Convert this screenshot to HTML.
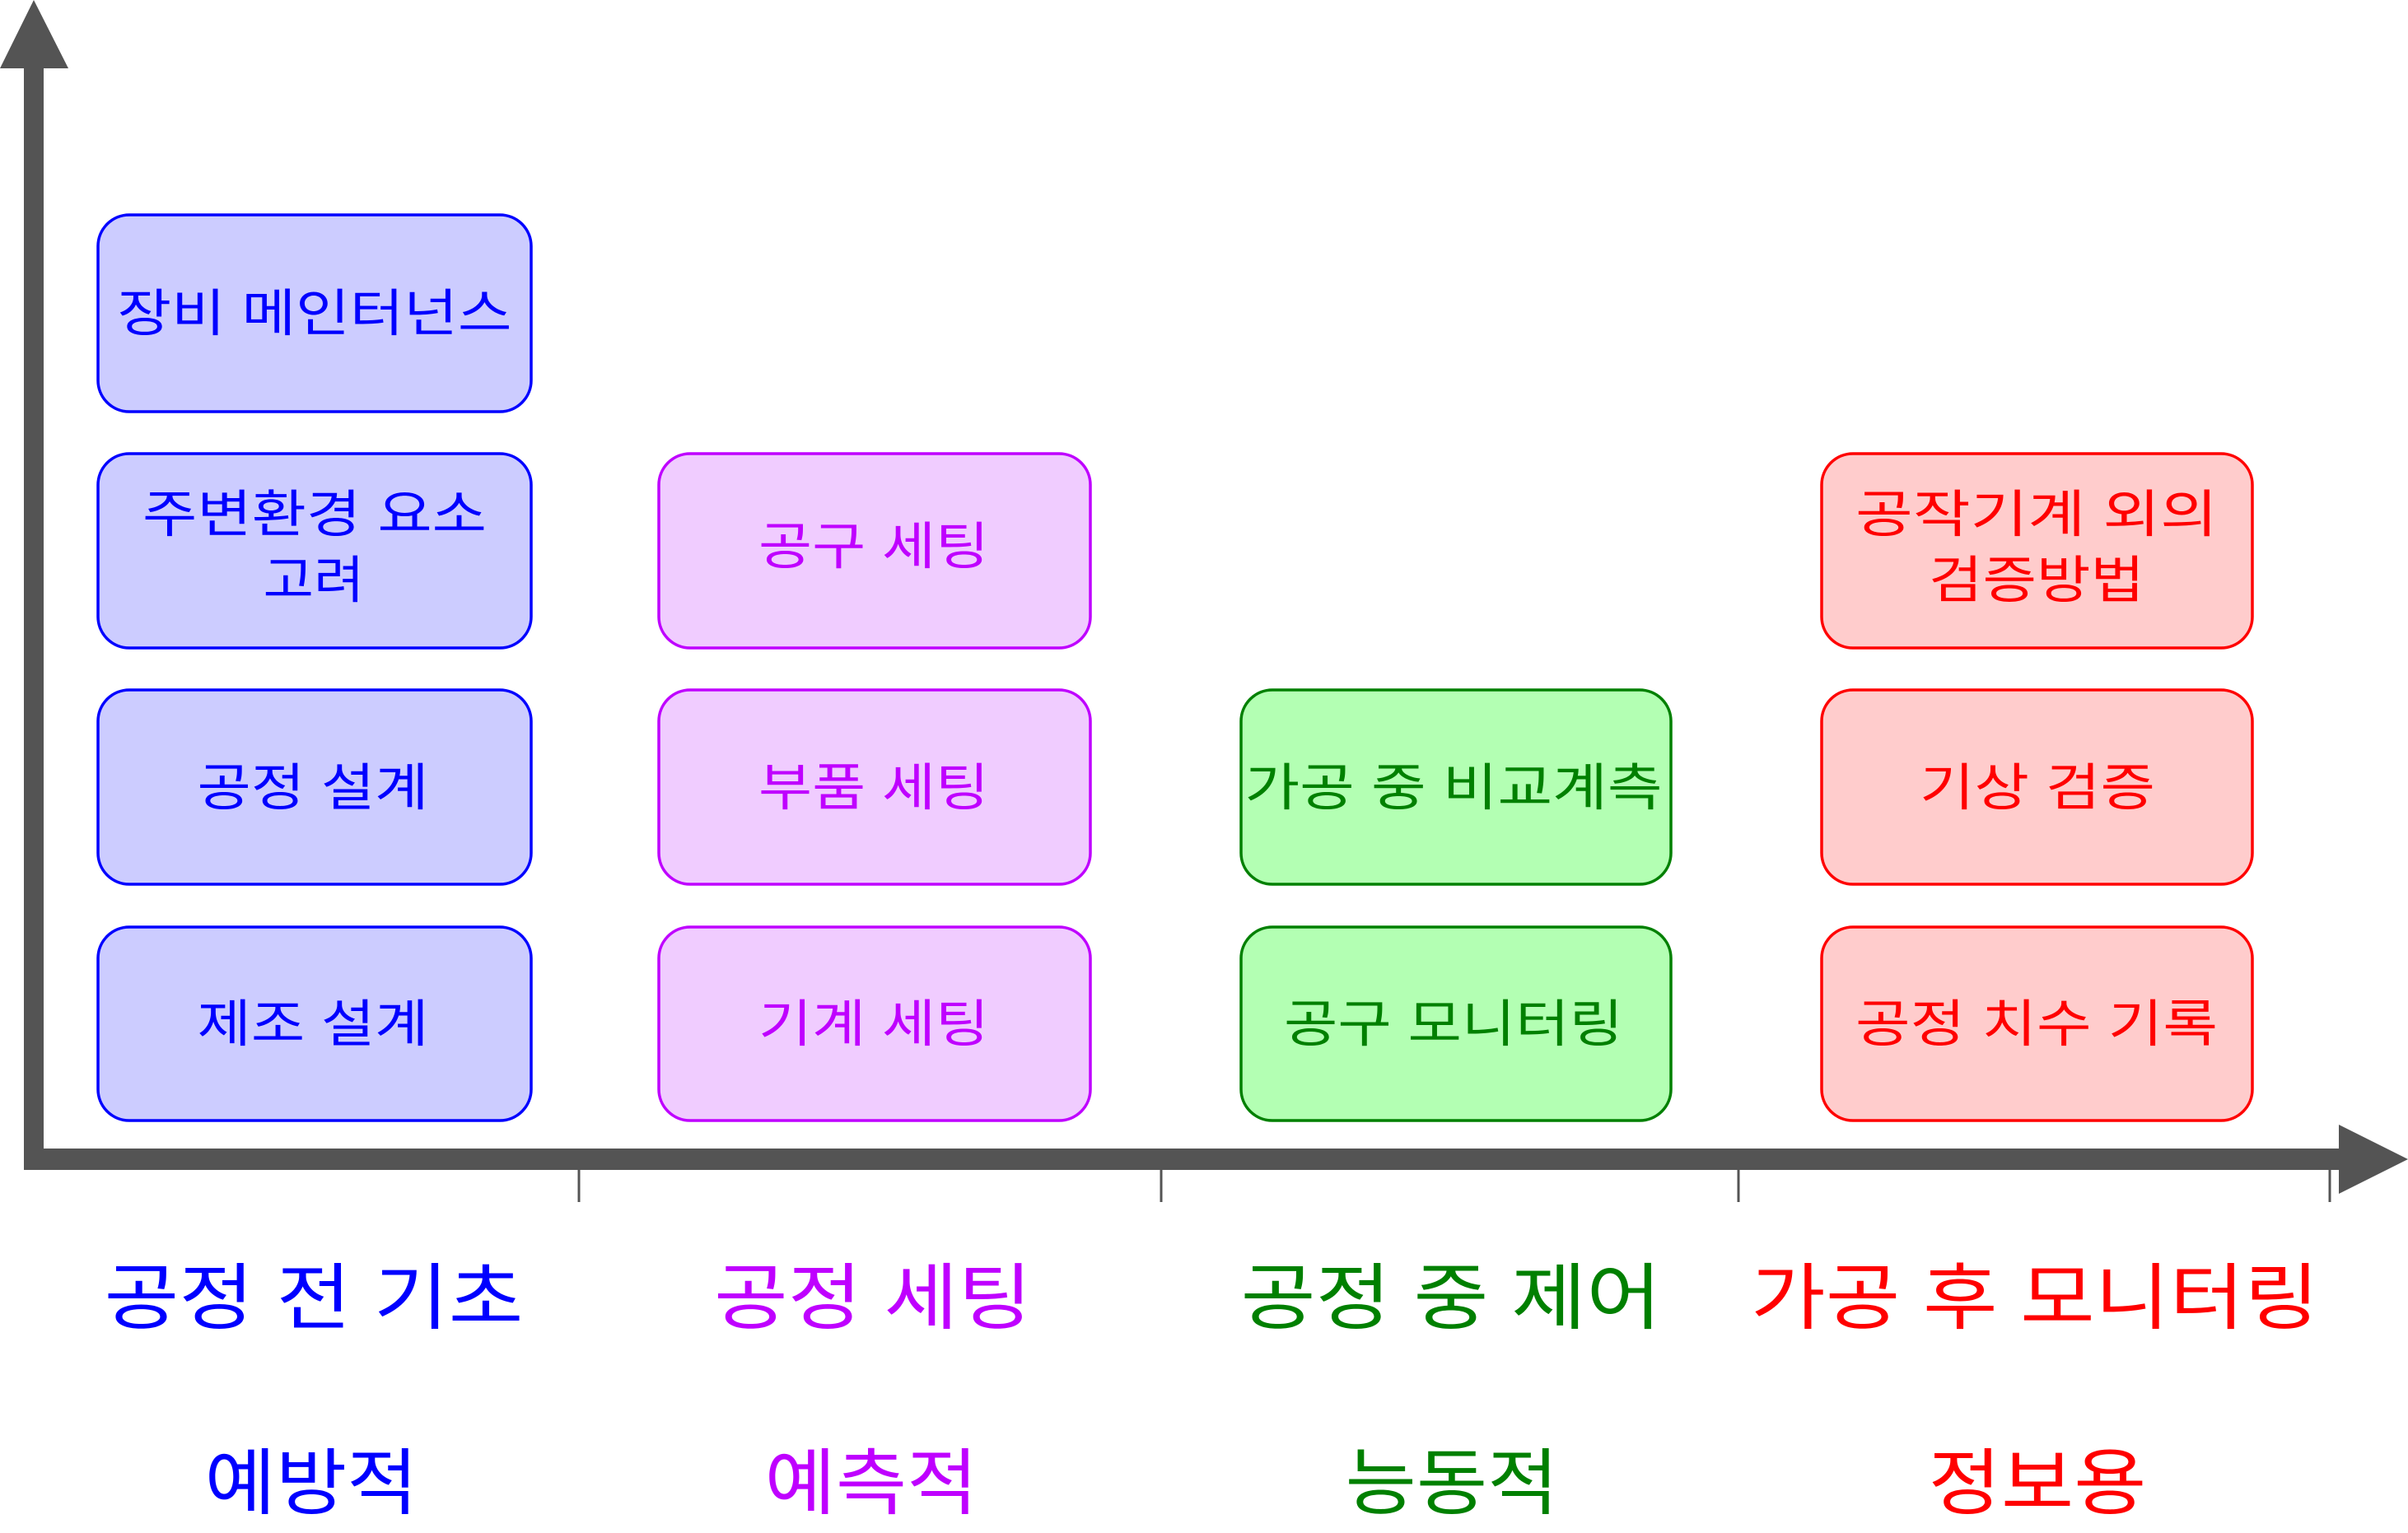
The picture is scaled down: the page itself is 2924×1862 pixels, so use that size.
<!DOCTYPE html>
<html><head><meta charset="utf-8"><style>
html,body{margin:0;padding:0;background:#fff}
svg{display:block}
text{font-family:"Liberation Sans","Noto Sans CJK KR",sans-serif}
</style></head><body>
<svg width="2924" height="1862" viewBox="0 0 2924 1862" xmlns="http://www.w3.org/2000/svg">
<rect x="29" y="80" width="24" height="1341" fill="#545454"/>
<polygon points="41,0 83,83 0,83" fill="#545454"/>
<rect x="29" y="1395" width="2815" height="26" fill="#545454"/>
<polygon points="2840,1366 2924,1408 2840,1450" fill="#545454"/>
<g stroke="#545454" stroke-width="3">
<line x1="703" y1="1421" x2="703" y2="1460"/>
<line x1="1410" y1="1421" x2="1410" y2="1460"/>
<line x1="2111" y1="1421" x2="2111" y2="1460"/>
<line x1="2829" y1="1421" x2="2829" y2="1460"/>
</g>
<g stroke-width="3.5">
<g fill="#ccccff" stroke="#0000ff">
<rect x="119" y="261" width="526" height="239" rx="38"/>
<rect x="119" y="551" width="526" height="236" rx="38"/>
<rect x="119" y="838" width="526" height="236" rx="38"/>
<rect x="119" y="1126" width="526" height="235" rx="38"/>
</g>
<g fill="#f0ccff" stroke="#bf00ff">
<rect x="800" y="551" width="524" height="236" rx="38"/>
<rect x="800" y="838" width="524" height="236" rx="38"/>
<rect x="800" y="1126" width="524" height="235" rx="38"/>
</g>
<g fill="#b3ffb3" stroke="#008000">
<rect x="1507" y="838" width="522" height="236" rx="38"/>
<rect x="1507" y="1126" width="522" height="235" rx="38"/>
</g>
<g fill="#ffcccc" stroke="#ff0000">
<rect x="2212" y="551" width="523" height="236" rx="38"/>
<rect x="2212" y="838" width="523" height="236" rx="38"/>
<rect x="2212" y="1126" width="523" height="235" rx="38"/>
</g>
</g>
<g font-size="62" text-anchor="middle">
<g fill="#0000ff">
<text x="382" y="402" textLength="479" lengthAdjust="spacingAndGlyphs">장비 메인터넌스</text>
<text x="382" y="646" textLength="418" lengthAdjust="spacingAndGlyphs">주변환경 요소</text>
<text x="381" y="726" textLength="123" lengthAdjust="spacingAndGlyphs">고려</text>
<text x="380" y="978" textLength="281" lengthAdjust="spacingAndGlyphs">공정 설계</text>
<text x="380" y="1265" textLength="281" lengthAdjust="spacingAndGlyphs">제조 설계</text>
</g>
<g fill="#bf00ff">
<text x="1061" y="685" textLength="280" lengthAdjust="spacingAndGlyphs">공구 세팅</text>
<text x="1061" y="978" textLength="280" lengthAdjust="spacingAndGlyphs">부품 세팅</text>
<text x="1061" y="1265" textLength="280" lengthAdjust="spacingAndGlyphs">기계 세팅</text>
</g>
<g fill="#008000">
<text x="1765" y="978" textLength="507" lengthAdjust="spacingAndGlyphs">가공 중 비교계측</text>
<text x="1765" y="1265" textLength="412" lengthAdjust="spacingAndGlyphs">공구 모니터링</text>
</g>
<g fill="#ff0000">
<text x="2473" y="646" textLength="440" lengthAdjust="spacingAndGlyphs">공작기계  외의</text>
<text x="2473" y="726" textLength="262" lengthAdjust="spacingAndGlyphs">검증방법</text>
<text x="2474" y="978" textLength="286" lengthAdjust="spacingAndGlyphs">기상 검증</text>
<text x="2473" y="1265" textLength="440" lengthAdjust="spacingAndGlyphs">공정 치수 기록</text>
</g>
</g>
<g font-size="88" text-anchor="middle">
<text x="381" y="1607" fill="#0000ff" textLength="509" lengthAdjust="spacingAndGlyphs">공정 전 기초</text>
<text x="1060" y="1607" fill="#bf00ff" textLength="386" lengthAdjust="spacingAndGlyphs">공정 세팅</text>
<text x="1762" y="1607" fill="#008000" textLength="511" lengthAdjust="spacingAndGlyphs">공정 중 제어</text>
<text x="2471" y="1607" fill="#ff0000" textLength="690" lengthAdjust="spacingAndGlyphs">가공 후 모니터링</text>
<text x="378" y="1832" fill="#0000ff" textLength="259" lengthAdjust="spacingAndGlyphs">예방적</text>
<text x="1058" y="1832" fill="#bf00ff" textLength="259" lengthAdjust="spacingAndGlyphs">예측적</text>
<text x="1763" y="1832" fill="#008000" textLength="259" lengthAdjust="spacingAndGlyphs">능동적</text>
<text x="2474" y="1832" fill="#ff0000" textLength="265" lengthAdjust="spacingAndGlyphs">정보용</text>
</g>
</svg>
</body></html>
